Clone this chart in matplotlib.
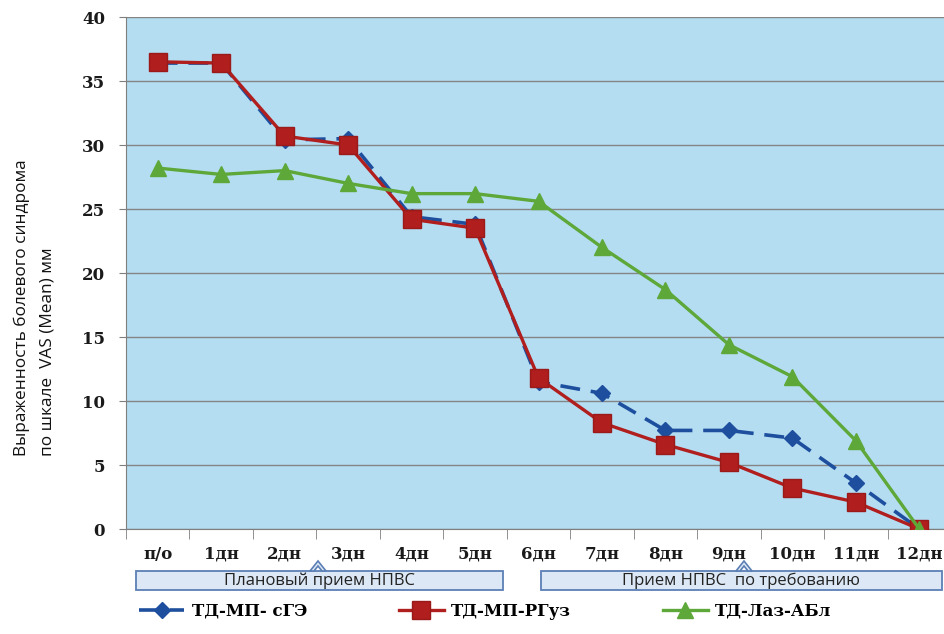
import matplotlib
matplotlib.use("Agg")
import matplotlib.pyplot as plt
from matplotlib.patches import Rectangle, Polygon

days = ["п/о", "1дн", "2дн", "3дн", "4дн", "5дн", "6дн",
        "7дн", "8дн", "9дн", "10дн", "11дн", "12дн"]
s_ge = [36.4, 36.4, 30.4, 30.5, 24.4, 23.8, 11.5, 10.6, 7.7, 7.7, 7.1, 3.6, 0]
s_rguz = [36.5, 36.4, 30.7, 30.0, 24.2, 23.5, 11.8, 8.3, 6.6, 5.2, 3.2, 2.1, 0]
s_labl = [28.2, 27.7, 28.0, 27.0, 26.2, 26.2, 25.6, 22.0, 18.7, 14.4, 11.9, 6.9, 0]
names = ["ТД-МП- сГЭ", "ТД-МП-РГуз", "ТД-Лаз-АБл"]
phases = ["Плановый прием НПВС", "Прием НПВС  по требованию"]
ylabel_lines = ["Выраженность болевого синдрома", "по шкале  VAS (Mean) мм"]

W, H = 944, 634
fig = plt.figure(figsize=(W / 100, H / 100), dpi=100)
ax = fig.add_axes([126 / W, 1 - 529 / H, 825 / W, 512 / H])
ax.set_facecolor("#b4ddf2")

x = range(len(days))
ax.plot(x, s_ge, color="#1d4f9e", lw=2.6, ls=(0, (5.5, 3)), marker="D",
        ms=8, mec="#1d4f9e", label=names[0], zorder=3)
ax.plot(x, s_rguz, color="#b01e1e", lw=2.4, marker="s", ms=12.5,
        mec="#9a1a1a", label=names[1], zorder=4)
ax.plot(x, s_labl, color="#5ea83a", lw=2.4, marker="^", ms=12,
        mec="#5ea83a", label=names[2], zorder=5)

ax.set_xlim(-0.5, len(days) - 0.5)
ax.set_ylim(0, 40)
ax.set_yticks(range(0, 41, 5))
ax.grid(axis="y", color="#858585", lw=1)
ax.set_axisbelow(True)

ax.set_xticks(list(x))
ax.set_xticklabels(days)
ax.set_xticks([i - 0.5 for i in range(len(days) + 1)], minor=True)
ax.tick_params(axis="x", which="major", length=0, pad=12)
ax.tick_params(axis="x", which="minor", length=7, color="#7f7f7f")
ax.tick_params(axis="y", length=5, color="#7f7f7f", pad=10)
for lab in ax.get_xticklabels() + ax.get_yticklabels():
    lab.set_fontfamily("DejaVu Serif")
    lab.set_fontweight("bold")
    lab.set_fontsize(12)
    lab.set_color("#1a1a1a")

for side in ["top", "right"]:
    ax.spines[side].set_visible(False)
ax.spines["left"].set_color("#7f7f7f")
ax.spines["bottom"].set_color("#7f7f7f")

# y-axis caption, two lines aligned at their start
for xpos, line in zip([22, 48], ylabel_lines):
    fig.text(xpos / W, 1 - 456 / H, line, rotation=90, ha="center",
             va="bottom", fontsize=12.4, family="Open Sans", color="#111111")

# treatment phase boxes with small carets
boxes = [(136, 503, 318), (541, 942, 744)]
for (x0, x1, xc), txt in zip(boxes, phases):
    y0, y1 = 1 - 590 / H, 1 - 571 / H
    fig.add_artist(Rectangle((x0 / W, y0), (x1 - x0) / W, y1 - y0,
                             transform=fig.transFigure, fc="#dce8f5",
                             ec="#5b7fb5", lw=1.3))
    caret = [(xc - 8, 571), (xc, 561), (xc + 8, 571), (xc + 4, 571),
             (xc, 566), (xc - 4, 571)]
    fig.add_artist(Polygon([(px / W, 1 - py / H) for px, py in caret],
                           closed=True, transform=fig.transFigure,
                           fc="#dce8f5", ec="#5b7fb5", lw=1.2))
    fig.text((x0 + x1) / 2 / W, (y0 + y1) / 2, txt, ha="center",
             va="center", fontsize=12, family="Open Sans",
             color="#222222")

leg = ax.legend(loc="center left", bbox_to_anchor=(124 / W, 1 - 611 / H),
                bbox_transform=fig.transFigure, ncol=3, frameon=False,
                handlelength=2.7, handletextpad=0.45, columnspacing=5.5,
                prop={"family": "DejaVu Serif", "weight": "bold",
                      "size": 12})

fig.savefig("out.png", dpi=100)
